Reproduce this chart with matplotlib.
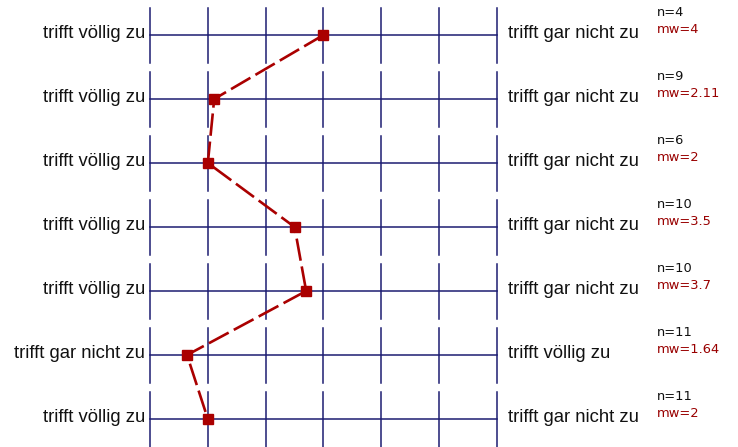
import matplotlib

matplotlib.use("Agg")
import matplotlib.pyplot as plt

plt.rcParams["font.family"] = ["Liberation Sans", "DejaVu Sans"]

# one row per item: left/right anchor labels, sample size and mean (scale 1..7)
left_labels = ["trifft völlig zu"] * 5 + ["trifft gar nicht zu", "trifft völlig zu"]
right_labels = ["trifft gar nicht zu"] * 5 + ["trifft völlig zu", "trifft gar nicht zu"]
n_values = [4, 9, 6, 10, 10, 11, 11]
mw_labels = ["4", "2.11", "2", "3.5", "3.7", "1.64", "2"]
means = [4, 2.11, 2, 3.5, 3.7, 1.64, 2]
scale = [1, 2, 3, 4, 5, 6, 7]

grid_color = "#1c1c72"
line_color = "#aa0000"
mw_color = "#990000"

fig = plt.figure(figsize=(7.38, 4.47), dpi=100)
ax = fig.add_axes([0, 0, 1, 1])
ax.axis("off")

# pixel layout: x=1 at 150px, step ~57.8px; rows 64px apart starting at 35px
step = 57.83
ax.set_xlim(1 - 150 / step, 7 + (738 - 497) / step)
ax.set_ylim((447 - 35) / 64, -35 / 64)

rows = list(range(len(means)))
for i in rows:
    ax.plot([scale[0], scale[-1]], [i, i], color=grid_color, lw=1.1, zorder=1)
    for s in scale:
        ax.plot([s, s], [i - 0.42, i + 0.44], color=grid_color, lw=1.1, zorder=1)
    ax.text(scale[0] - 5 / step, i + 0.045, left_labels[i], ha="right", va="baseline",
            fontsize=13.3, color="#111111")
    ax.text(scale[-1] + 11 / step, i + 0.045, right_labels[i], ha="left", va="baseline",
            fontsize=13.3, color="#111111")
    ax.text(1 + 507 / step, i - 0.30, f"n={n_values[i]}", ha="left", va="baseline",
            fontsize=9.4, family="DejaVu Sans", color="#111111")
    ax.text(1 + 507 / step, i - 0.035, f"mw={mw_labels[i]}", ha="left", va="baseline",
            fontsize=9.4, family="DejaVu Sans", color=mw_color)

ax.plot(means, rows, color=line_color, lw=1.9, linestyle=(0, (8.5, 2.2)), zorder=2)
ax.plot(means, rows, color=line_color, lw=0, marker="s", markersize=6.5, zorder=3)

fig.savefig("out.png", dpi=100)
